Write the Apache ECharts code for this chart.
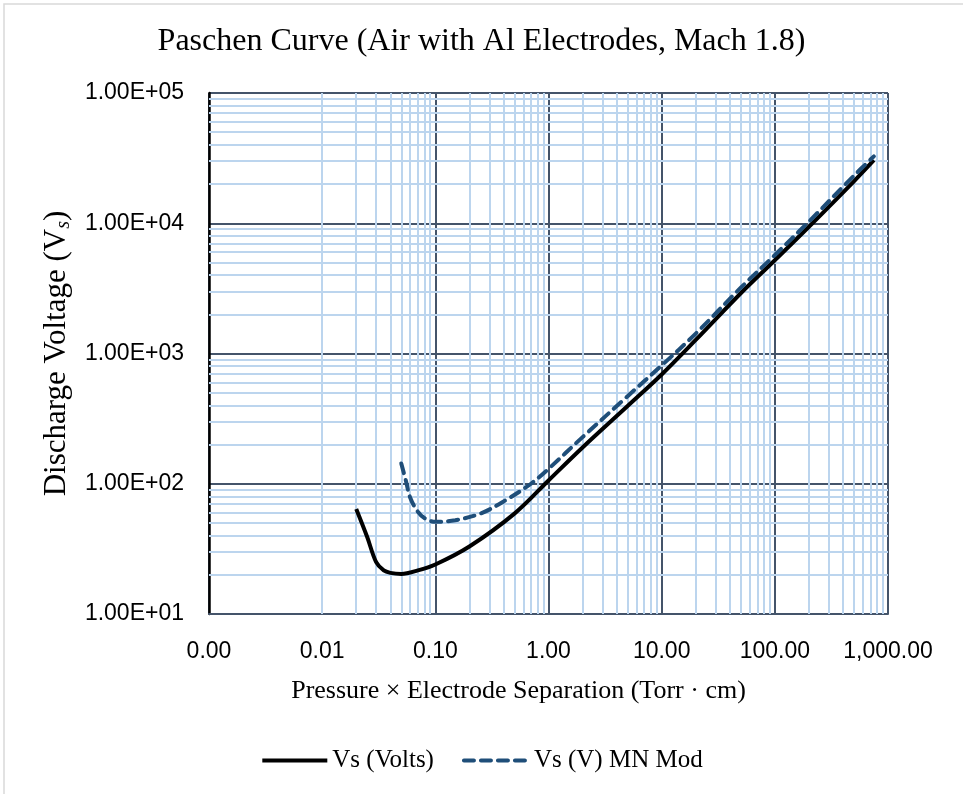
<!DOCTYPE html>
<html>
<head>
<meta charset="utf-8">
<script src="https://cdn.jsdelivr.net/npm/echarts@6/dist/echarts.min.js"></script>
<style>
html,body{margin:0;padding:0;background:#fff;}
#main{width:963px;height:794px;}
</style>
</head>
<body>
<div id="main"></div>
<script>
// Vs (Volts)
var vsX = [0.02, 0.025, 0.03, 0.035, 0.04, 0.05, 0.07, 0.1, 0.2, 0.5, 1, 2, 5, 10, 20, 50, 100, 200, 500, 750];
var vsY = [64, 39, 25, 21.6, 20.7, 20.3, 21.6, 24, 33, 59, 106, 190, 395, 690, 1270, 2900, 5200, 9400, 21000, 30500];
// Vs (V) MN Mod
var mnX = [0.05, 0.055, 0.06, 0.07, 0.08, 0.1, 0.15, 0.25, 0.4, 0.7, 1, 2, 5, 10, 20, 50, 100, 200, 500, 750];
var mnY = [143, 105, 78, 61, 54.5, 51, 52.5, 59, 73, 100, 130, 228, 470, 810, 1420, 3200, 5700, 10300, 23200, 32600];

var xTicks = ['0.00', '0.01', '0.10', '1.00', '10.00', '100.00', '1,000.00'];
var yTicks = ['1.00E+01', '1.00E+02', '1.00E+03', '1.00E+04', '1.00E+05'];
var xDecades = [0.001, 0.01, 0.1, 1, 10, 100];
var yDecades = [10, 100, 1000, 10000];
var minorSteps = [2, 3, 4, 5, 6, 7, 8, 9];

var minorLines = [];
xDecades.forEach(function (d) {
    minorSteps.forEach(function (m) { minorLines.push({ xAxis: d * m }); });
});
yDecades.forEach(function (d) {
    minorSteps.forEach(function (m) { minorLines.push({ yAxis: d * m }); });
});

function pairs(xs, ys) {
    var out = [];
    for (var i = 0; i < xs.length; i++) out.push([xs[i], ys[i]]);
    return out;
}

var serif = '"Liberation Serif", "Times New Roman", serif';
var sans = '"Liberation Sans", Arial, sans-serif';

var myChart = echarts.init(document.getElementById('main'));
var option = {
    animation: false,
    title: {
        text: 'Paschen Curve (Air with Al Electrodes, Mach 1.8)',
        left: 'center',
        top: 21,
        textStyle: { fontFamily: serif, fontSize: 32, fontWeight: 'normal', color: '#000' }
    },
    graphic: [{
        type: 'rect',
        shape: { x: 4, y: 4, width: 1000, height: 1000 },
        style: { fill: 'none', stroke: '#d9d9d9', lineWidth: 1.5 },
        silent: true
    }],
    legend: {
        top: 743,
        left: 'center',
        padding: [5, 5, 5, 24],
        itemWidth: 65,
        itemHeight: 14,
        itemGap: 28,
        itemStyle: { opacity: 0 },
        lineStyle: { width: 4 },
        textStyle: { fontFamily: serif, fontSize: 25, color: '#000' },
        data: ['Vs (Volts)', 'Vs (V) MN Mod']
    },
    grid: { left: 209, right: 75, top: 93, bottom: 180 },
    xAxis: {
        type: 'log',
        logBase: 10,
        min: 0.001,
        max: 1000,
        name: 'Pressure × Electrode Separation (Torr · cm)',
        nameLocation: 'middle',
        nameGap: 64,
        nameTextStyle: { fontFamily: serif, fontSize: 26, color: '#000', padding: [0, 60, 0, 0] },
        axisLine: { lineStyle: { color: '#44546a', width: 2 } },
        axisTick: { show: false },
        axisLabel: {
            margin: 26,
            fontFamily: sans,
            fontSize: 23,
            color: '#000',
            formatter: function (v) { return xTicks[Math.round(Math.log10(v)) + 3]; }
        },
        splitLine: { show: true, lineStyle: { color: '#44546a', width: 2 } }
    },
    yAxis: {
        type: 'log',
        logBase: 10,
        min: 10,
        max: 100000,
        name: '{n|Discharge Voltage (V}{s|s}{n|)}',
        nameLocation: 'middle',
        nameGap: 129,
        nameTextStyle: {
            rich: {
                n: { fontFamily: serif, fontSize: 31, color: '#000' },
                s: { fontFamily: serif, fontSize: 20, fontStyle: 'italic', color: '#000', verticalAlign: 'bottom', padding: [14, 0, 0, 0] }
            }
        },
        axisLine: { lineStyle: { color: '#000', width: 2.5 } },
        axisTick: { show: false },
        axisLabel: {
            margin: 25,
            fontFamily: sans,
            fontSize: 23,
            color: '#000',
            formatter: function (v) { return yTicks[Math.round(Math.log10(v)) - 1]; }
        },
        splitLine: { show: true, lineStyle: { color: '#44546a', width: 2 } }
    },
    series: [
        {
            name: 'Vs (Volts)',
            type: 'line',
            z: 4,
            smooth: 0.35,
            symbol: 'none',
            lineStyle: { color: '#000', width: 4 },
            itemStyle: { color: '#000' },
            data: pairs(vsX, vsY),
            markLine: {
                silent: true,
                z: 1,
                symbol: ['none', 'none'],
                label: { show: false },
                lineStyle: { type: 'solid', color: '#bcd5ee', width: 2 },
                data: minorLines
            }
        },
        {
            name: 'Vs (V) MN Mod',
            type: 'line',
            z: 4,
            smooth: 0.35,
            symbol: 'none',
            lineStyle: { color: '#1f4e79', width: 4, type: [10, 7], cap: 'round' },
            itemStyle: { color: '#1f4e79' },
            data: pairs(mnX, mnY)
        }
    ]
};
myChart.setOption(option);
</script>
</body>
</html>
